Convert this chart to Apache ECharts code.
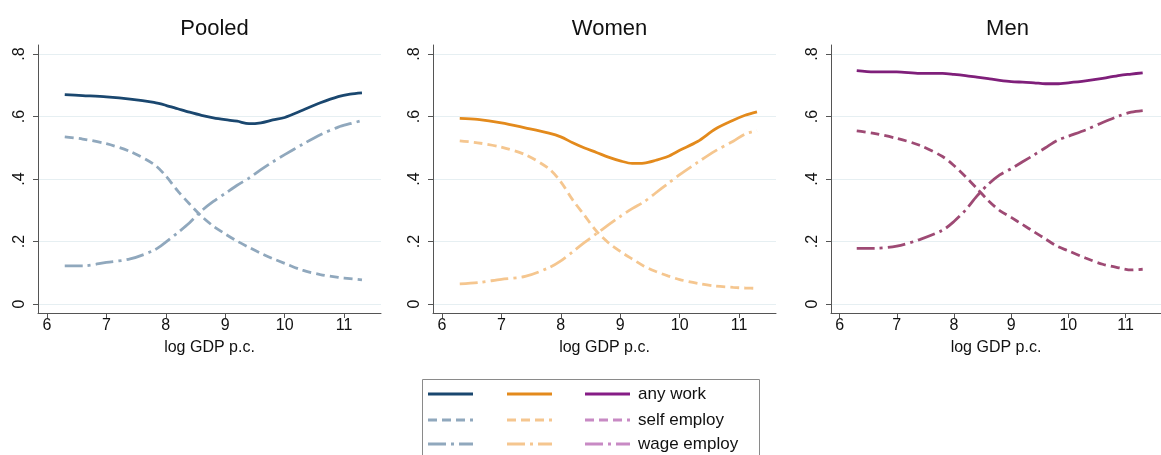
<!DOCTYPE html>
<html><head><meta charset="utf-8">
<script src="https://cdn.jsdelivr.net/npm/echarts@6/dist/echarts.min.js"></script>
<style>html,body{margin:0;padding:0;background:#fff}#c{width:1161px;height:455px}</style>
</head><body><div id="c"></div>
<script>
const panelTitles = ['Pooled', 'Women', 'Men'];
const legendLabels = ['any work', 'self employ', 'wage employ'];
const xTicks = [6, 7, 8, 9, 10, 11];
const yTicks = [0, 0.2, 0.4, 0.6, 0.8];
const yTickLabels = ['0', '.2', '.4', '.6', '.8'];
const xName = 'log GDP p.c.';
const gdp = [6.3, 6.6, 7.0, 7.4, 7.8, 8.0, 8.2, 8.4, 8.6, 8.8, 9.0, 9.2, 9.4, 9.6, 9.8, 10.0, 10.3, 10.6, 10.9, 11.1, 11.3];

const pooledAny  = [0.670,0.667,0.663,0.656,0.645,0.636,0.625,0.614,0.604,0.596,0.590,0.585,0.577,0.580,0.589,0.597,0.620,0.644,0.664,0.672,0.676];
const pooledSelf = [0.535,0.528,0.513,0.488,0.447,0.410,0.362,0.320,0.281,0.249,0.224,0.201,0.181,0.162,0.145,0.130,0.108,0.094,0.085,0.081,0.077];
const pooledWage = [0.122,0.122,0.133,0.144,0.172,0.198,0.228,0.260,0.298,0.328,0.354,0.380,0.403,0.430,0.455,0.478,0.511,0.542,0.566,0.577,0.587];

const womenAny  = [0.594,0.591,0.580,0.564,0.547,0.535,0.516,0.499,0.485,0.470,0.458,0.450,0.451,0.460,0.472,0.492,0.520,0.560,0.588,0.604,0.615];
const womenSelf = [0.522,0.516,0.502,0.478,0.433,0.391,0.333,0.283,0.233,0.196,0.168,0.144,0.121,0.104,0.090,0.078,0.066,0.057,0.053,0.051,0.050];
const womenWage = [0.064,0.068,0.079,0.088,0.116,0.138,0.167,0.197,0.225,0.253,0.280,0.305,0.327,0.356,0.385,0.414,0.453,0.490,0.521,0.544,0.555];

const menAny  = [0.747,0.743,0.743,0.738,0.738,0.735,0.731,0.726,0.721,0.716,0.712,0.710,0.708,0.705,0.705,0.708,0.714,0.722,0.732,0.736,0.740];
const menSelf = [0.554,0.546,0.530,0.508,0.472,0.443,0.408,0.370,0.331,0.299,0.277,0.254,0.231,0.208,0.185,0.170,0.147,0.127,0.115,0.109,0.111];
const menWage = [0.178,0.178,0.185,0.206,0.236,0.264,0.300,0.345,0.383,0.413,0.433,0.455,0.477,0.500,0.523,0.537,0.557,0.581,0.603,0.614,0.619];

const panels = [
  {any: pooledAny, self: pooledSelf, wage: pooledWage, c: ['#1a476f', '#90a8bd', '#90a8bd'], lc: ['#1a476f', '#90a8bd', '#90a8bd']},
  {any: womenAny, self: womenSelf, wage: womenWage, c: ['#e38a1c', '#f5c68f', '#f5c68f'], lc: ['#e38a1c', '#f5c68f', '#f5c68f']},
  {any: menAny, self: menSelf, wage: menWage, c: ['#7f1f7a', '#9e4a74', '#9e4a74'], lc: ['#861c86', '#c88ac4', '#c88ac4']}
];

const FONT = '"Liberation Sans", Arial, sans-serif';
const gridLefts = [38, 433, 831];
const PW = 343, TOP = 45, PH = 268;
const dashSelf = [9, 5];
const dashWage = [18, 5, 3, 5];

const grids = [], xAxes = [], yAxes = [], series = [], titles = [];
panels.forEach((p, i) => {
  grids.push({left: gridLefts[i], top: TOP, width: PW, height: PH, containLabel: false});
  titles.push({text: panelTitles[i], left: gridLefts[i] + PW / 2, top: 13, textAlign: 'center',
    textStyle: {fontFamily: FONT, fontSize: 22, fontWeight: 'normal', color: '#111'}});
  xAxes.push({type: 'value', gridIndex: i, min: 5.85, max: 11.62,
    name: xName, nameLocation: 'middle', nameGap: 27,
    nameTextStyle: {fontFamily: FONT, fontSize: 16, color: '#111'},
    axisLine: {show: true, onZero: false, lineStyle: {color: '#555', width: 1}},
    axisTick: {show: true, length: 5, customValues: xTicks, lineStyle: {color: '#555'}},
    axisLabel: {customValues: xTicks, margin: 5, fontFamily: FONT, fontSize: 16, color: '#111'},
    splitLine: {show: false}});
  yAxes.push({type: 'value', gridIndex: i, min: -0.029, max: 0.829,
    axisLine: {show: true, onZero: false, lineStyle: {color: '#555', width: 1}},
    axisTick: {show: true, length: 5, customValues: yTicks, lineStyle: {color: '#555'}},
    axisLabel: {customValues: yTicks, rotate: 90, margin: 10, fontFamily: FONT, fontSize: 16, color: '#111',
      formatter: v => yTickLabels[yTicks.findIndex(t => Math.abs(t - v) < 1e-6)]},
    splitLine: {show: true, lineStyle: {color: '#e6eff2', width: 1}}});
  const mk = (arr, col, dash) => ({
    type: 'line', xAxisIndex: i, yAxisIndex: i, showSymbol: false, smooth: 0.3, silent: true,
    data: gdp.map((g, k) => [g, arr[k]]),
    lineStyle: {color: col, width: 2.8, type: dash, cap: 'butt'}
  });
  series.push(mk(p.any, p.c[0], 'solid'), mk(p.self, p.c[1], dashSelf), mk(p.wage, p.c[2], dashWage));
});

// legend drawn as graphic
const legG = [{type: 'rect', shape: {x: 422.5, y: 379.5, width: 337, height: 90}, style: {fill: '#fff', stroke: '#8a8a8a', lineWidth: 1}}];
const rowY = [394, 420, 444];
const colX = [428, 507, 585];
const dashes = ['solid', dashSelf, dashWage];
rowY.forEach((y, r) => {
  panels.forEach((p, c) => {
    legG.push({type: 'line', shape: {x1: colX[c], y1: y, x2: colX[c] + 45, y2: y},
      style: {stroke: p.lc[r], lineWidth: 2.8, lineDash: dashes[r] === 'solid' ? null : dashes[r]}});
  });
  legG.push({type: 'text', x: 638, y: y, style: {text: legendLabels[r], font: '17px ' + FONT, fill: '#111', verticalAlign: 'middle'}});
});

const chart = echarts.init(document.getElementById('c'), null, {renderer: 'canvas'});
chart.setOption({
  backgroundColor: '#fff', animation: false,
  title: titles, grid: grids, xAxis: xAxes, yAxis: yAxes, series: series, graphic: legG
});
</script></body></html>
